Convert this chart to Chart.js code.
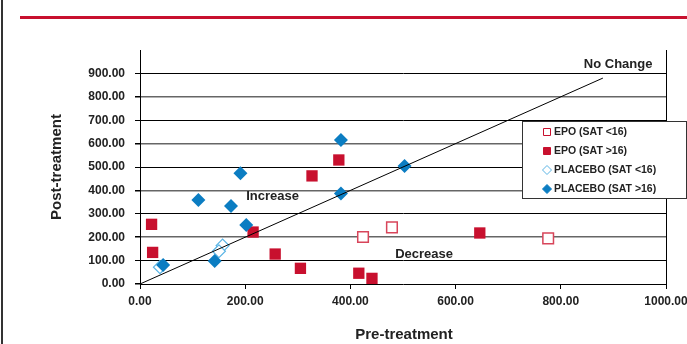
<!DOCTYPE html>
<html>
<head>
<meta charset="utf-8">
<script src="https://cdn.jsdelivr.net/npm/chart.js@4.4.1/dist/chart.umd.min.js"></script>
<style>
  body { margin: 0; background: #fff; }
</style>
</head>
<body>
<canvas id="scatterChart" width="687" height="344"></canvas>
<script>
// values
const epoLowX = [424, 479, 776];
const epoLowY = [201, 242, 195];
const epoHighX = [22, 24, 215, 257, 305, 327, 378, 416, 441, 646];
const epoHighY = [255, 135, 222, 128, 67, 462, 530, 46, 24, 218];
const placLowX = [157, 150, 38];
const placLowY = [164, 140, 72];
const placHighX = [44, 111, 173, 191, 202, 142, 382, 382, 503];
const placHighY = [81, 359, 333, 473, 252, 98, 615, 387, 504];
const noChangeX = [0, 880];
const noChangeY = [0, 880];

const seriesLabels = ['EPO (SAT <16)', 'EPO (SAT >16)', 'PLACEBO (SAT <16)', 'PLACEBO (SAT >16)'];
const notes = [
    { text: 'No Change', x: 909, y: 940 },
    { text: 'Increase', x: 252, y: 373 },
    { text: 'Decrease', x: 540, y: 128 }
];

const RED = '#c8102e';
const BLUE = '#0b7dc2';
const LIGHTBLUE = '#5ab4e5';
const FONT = 'Liberation Sans, Arial, Helvetica, sans-serif';

const toPoints = (xs, ys) => xs.map((x, i) => ({ x: x, y: ys[i] }));

function drawMarker(ctx, kind, x, y, s) {
    ctx.save();
    ctx.beginPath();
    if (kind === 'square') {
        ctx.rect(x - s, y - s, 2 * s, 2 * s);
    } else {
        ctx.moveTo(x, y - s);
        ctx.lineTo(x + s, y);
        ctx.lineTo(x, y + s);
        ctx.lineTo(x - s, y);
        ctx.closePath();
    }
    return ctx;
}

const decorPlugin = {
    id: 'decor',
    beforeDraw(chart) {
        const ctx = chart.ctx;
        ctx.save();
        ctx.fillStyle = '#fff';
        ctx.fillRect(0, 0, chart.width, chart.height);
        // slide frame bits
        ctx.fillStyle = '#333';
        ctx.fillRect(1, 0, 2, chart.height);
        ctx.fillStyle = RED;
        ctx.fillRect(20, 16, chart.width - 20, 3);
        ctx.restore();
    },
    afterDatasetsDraw(chart) {
        const ctx = chart.ctx;
        const area = chart.chartArea;
        const xs = chart.scales.x, ys = chart.scales.y;
        ctx.save();
        // right border of plot
        ctx.strokeStyle = '#000';
        ctx.lineWidth = 1;
        ctx.beginPath();
        ctx.moveTo(area.right + 0.5, area.top);
        ctx.lineTo(area.right + 0.5, area.bottom);
        ctx.stroke();

        // notes
        ctx.fillStyle = '#222';
        ctx.font = 'bold 13px ' + FONT;
        ctx.textAlign = 'center';
        ctx.textBaseline = 'middle';
        notes.forEach(n => {
            ctx.fillText(n.text, xs.getPixelForValue(n.x), ys.getPixelForValue(n.y));
        });

        // axis titles
        ctx.font = 'bold 15px ' + FONT;
        ctx.fillText('Pre-treatment', 404, 335);
        ctx.save();
        ctx.translate(57, 167);
        ctx.rotate(-Math.PI / 2);
        ctx.fillText('Post-treatment', 0, 0);
        ctx.restore();

        // legend
        const lx = 522, ly = 121, lw = 164, lh = 77;
        ctx.fillStyle = '#fff';
        ctx.fillRect(lx, ly, lw, lh);
        ctx.strokeStyle = '#333';
        ctx.strokeRect(lx + 0.5, ly + 0.5, lw, lh);
        ctx.font = 'bold 10.5px ' + FONT;
        ctx.textAlign = 'left';
        const rowY = [132, 151, 170, 189];
        const kinds = [
            { k: 'square', fill: '#fff', stroke: RED, s: 3.5 },
            { k: 'square', fill: RED, stroke: RED, s: 3.5 },
            { k: 'diamond', fill: '#fff', stroke: LIGHTBLUE, s: 4.5 },
            { k: 'diamond', fill: BLUE, stroke: BLUE, s: 4.5 }
        ];
        seriesLabels.forEach((label, i) => {
            const m = kinds[i];
            drawMarker(ctx, m.k, 547, rowY[i], m.s);
            ctx.fillStyle = m.fill;
            ctx.fill();
            ctx.strokeStyle = m.stroke;
            ctx.lineWidth = 1;
            ctx.stroke();
            ctx.restore();
            ctx.fillStyle = '#222';
            ctx.fillText(label, 554, rowY[i] + 0.5);
        });
        ctx.restore();
    }
};

new Chart(document.getElementById('scatterChart'), {
    type: 'scatter',
    data: {
        datasets: [
            {
                label: seriesLabels[0],
                data: toPoints(epoLowX, epoLowY),
                pointStyle: 'rect',
                pointRadius: 7.5,
                pointBackgroundColor: '#fff',
                pointBorderColor: '#d8455a',
                pointBorderWidth: 1.5,
                order: 4
            },
            {
                label: seriesLabels[1],
                data: toPoints(epoHighX, epoHighY),
                pointStyle: 'rect',
                pointRadius: 8,
                pointBackgroundColor: RED,
                pointBorderColor: RED,
                pointBorderWidth: 0,
                order: 3
            },
            {
                label: seriesLabels[2],
                data: toPoints(placLowX, placLowY),
                pointStyle: 'rectRot',
                pointRadius: 6.5,
                pointBackgroundColor: '#fff',
                pointBorderColor: LIGHTBLUE,
                pointBorderWidth: 1.2,
                order: 2
            },
            {
                label: seriesLabels[3],
                data: toPoints(placHighX, placHighY),
                pointStyle: 'rectRot',
                pointRadius: 7,
                pointBackgroundColor: BLUE,
                pointBorderColor: BLUE,
                pointBorderWidth: 0,
                order: 1
            },
            {
                type: 'line',
                label: 'No Change',
                data: toPoints(noChangeX, noChangeY),
                borderColor: '#000',
                borderWidth: 1,
                pointRadius: 0,
                order: 0
            }
        ]
    },
    options: {
        responsive: false,
        animation: false,
        devicePixelRatio: 1,
        layout: { padding: { top: 50, right: 21, left: 0, bottom: 0 } },
        plugins: {
            legend: { display: false },
            tooltip: { enabled: false }
        },
        scales: {
            x: {
                type: 'linear',
                min: 0,
                max: 1000,
                afterFit: s => { s.height = 60; s.paddingLeft = 0; s.paddingRight = 0; },
                ticks: {
                    stepSize: 200,
                    padding: 5,
                    color: '#222',
                    font: { family: FONT, size: 12, weight: 'bold' },
                    maxRotation: 0,
                    callback: v => v.toFixed(2)
                },
                grid: {
                    drawOnChartArea: false,
                    tickLength: 5,
                    color: '#000'
                },
                border: { color: '#000', width: 1 }
            },
            y: {
                min: 0,
                max: 1000,
                afterFit: s => { s.width = 140; s.paddingTop = 0; s.paddingBottom = 0; },
                ticks: {
                    stepSize: 100,
                    padding: 10,
                    color: '#222',
                    font: { family: FONT, size: 12, weight: 'bold' },
                    callback: v => (v >= 1000 ? '' : v.toFixed(2))
                },
                grid: {
                    tickLength: 5,
                    color: c => {
                        const v = c.tick ? c.tick.value : 0;
                        if (v === 0 || v >= 1000) return 'rgba(0,0,0,0)';
                        return (v / 100) % 2 === 1 ? '#000' : '#666';
                    },
                    lineWidth: c => {
                        const v = c.tick ? c.tick.value : 0;
                        return (v / 100) % 2 === 1 ? 1 : 1.5;
                    },
                    tickColor: c => (c.tick && c.tick.value >= 1000 ? 'rgba(0,0,0,0)' : '#000')
                },
                border: { color: '#000', width: 1 }
            }
        }
    },
    plugins: [decorPlugin]
});
</script>
</body>
</html>
